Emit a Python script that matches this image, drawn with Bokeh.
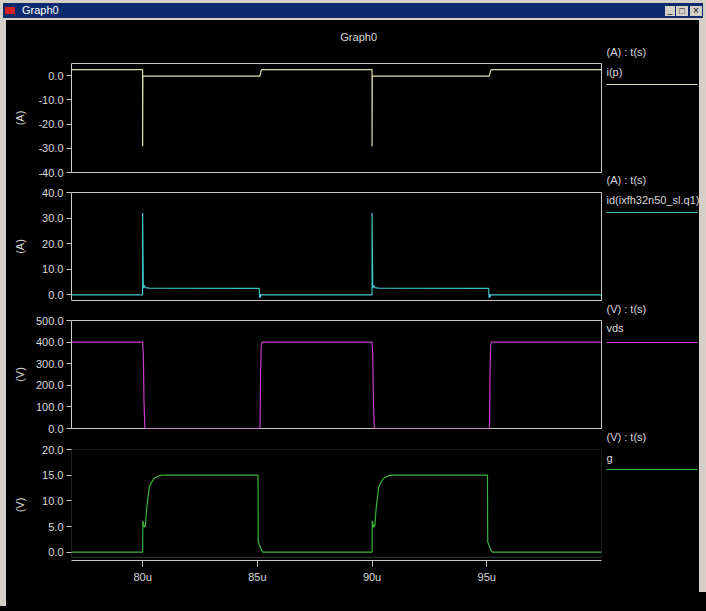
from bokeh.plotting import figure
from bokeh.models import Range1d, FixedTicker, PrintfTickFormatter, BoxAnnotation, Div
from bokeh.layouts import column, row
from bokeh.embed import file_html
from bokeh.resources import INLINE
from bokeh.core.properties import value

# ---------------- data (time in microseconds) ----------------
t_ip = [76.9, 80.0, 80.0, 80.01, 85.1, 85.13, 85.16, 85.2,
        90.0, 90.0, 90.01, 95.1, 95.13, 95.16, 95.2, 100.0]
i_p = [2.5, 2.5, -29.2, -0.2, -0.2, 0.3, 2.0, 2.5,
       2.5, -29.2, -0.2, -0.2, 0.3, 2.0, 2.5, 2.5]

t_id = [76.9, 80.0, 80.0, 80.03, 80.07, 80.1, 80.18, 80.3, 85.08, 85.1, 85.12, 85.14, 85.16, 85.2,
        90.0, 90.0, 90.03, 90.07, 90.1, 90.18, 90.3, 95.08, 95.1, 95.12, 95.14, 95.16, 95.2, 100.0]
i_d = [0.0, 0.0, 32.0, 2.7, 3.8, 2.9, 2.7, 2.6, 2.5, -1.2, 0.3, -0.9, 0.1, 0.0,
       0.0, 32.0, 2.7, 3.8, 2.9, 2.7, 2.6, 2.5, -1.2, 0.3, -0.9, 0.1, 0.0, 0.0]

t_vds = [76.9, 80.0, 80.03, 80.06, 80.1, 85.12, 85.14, 85.17, 85.2,
         90.0, 90.03, 90.06, 90.1, 95.12, 95.14, 95.17, 95.2, 100.0]
v_ds = [400, 400, 340, 120, 0, 0, 250, 385, 400,
        400, 340, 120, 0, 0, 250, 385, 400, 400]

t_g = [76.9, 80.0, 80.01, 80.04, 80.07, 80.12, 80.17, 80.2, 80.29, 80.35, 80.5, 80.72, 80.9,
       85.03, 85.04, 85.08, 85.1, 85.17, 85.24,
       90.0, 90.01, 90.04, 90.07, 90.12, 90.17, 90.2, 90.29, 90.35, 90.5, 90.72, 90.9,
       95.03, 95.04, 95.08, 95.1, 95.17, 95.24, 100.0]
g = [0.0, 0.0, 6.1, 5.6, 4.9, 5.1, 8.1, 9.4, 12.7, 13.3, 14.4, 14.9, 15.0,
     15.0, 2.0, 1.6, 1.3, 0.5, 0.0,
     0.0, 6.1, 5.6, 4.9, 5.1, 8.1, 9.4, 12.7, 13.3, 14.4, 14.9, 15.0,
     15.0, 2.0, 1.6, 1.3, 0.5, 0.0, 0.0]

x_ticks = [80, 85, 90, 95]
ticks_ip = [-40, -30, -20, -10, 0]
ticks_id = [0, 10, 20, 30, 40]
ticks_vds = [0, 100, 200, 300, 400, 500]
ticks_g = [0, 5, 10, 15, 20]

graph_title = "Graph0"
headers = ["(A) : t(s)", "(A) : t(s)", "(V) : t(s)", "(V) : t(s)"]
names = ["i(p)", "id(ixfh32n50_sl.q1)", "vds", "g"]
colors = ["#dcdca8", "#40c4c8", "#c83cc8", "#3cb43c"]

# ---------------- styling ----------------
FONT = "Liberation Sans"
FG = "#d8d8d8"
BOX = "#c8c8c8"
WIN = "#d4d0c8"
X0, X1 = 76.9, 100.0
BLACK_BG = {"background-color": "black"}


def blank(width, height):
    p = figure(width=width, height=height, output_backend="svg", toolbar_location=None,
               x_range=Range1d(0, width), y_range=Range1d(height, 0),
               min_border=0, background_fill_color="black", border_fill_color="black",
               styles=BLACK_BG, margin=0)
    p.axis.visible = False
    p.grid.visible = False
    p.outline_line_color = None
    return p


def panel(height, top, bottom, yr, ticks, unit, standoff, t, v, color, xaxis=False):
    p = figure(width=598, height=height, output_backend="svg", toolbar_location=None,
               x_range=Range1d(X0, X1), y_range=Range1d(*yr),
               min_border_left=65, min_border_right=3,
               min_border_top=top, min_border_bottom=bottom,
               background_fill_color="black", border_fill_color="black",
               styles=BLACK_BG, margin=0)
    p.grid.visible = False
    p.outline_line_color = BOX
    p.line(t, v, line_color=color, line_width=1.2)
    ya = p.yaxis[0]
    ya.ticker = FixedTicker(ticks=ticks)
    ya.formatter = PrintfTickFormatter(format="%.1f")
    ya.axis_line_color = None
    ya.major_tick_line_color = BOX
    ya.major_tick_out = 5
    ya.major_tick_in = 0
    ya.minor_tick_line_color = None
    ya.major_label_standoff = 3
    ya.major_label_text_font = FONT
    ya.major_label_text_font_size = "11px"
    ya.major_label_text_color = FG
    ya.axis_label = unit
    ya.axis_label_text_font = FONT
    ya.axis_label_text_font_size = "11px"
    ya.axis_label_text_font_style = "normal"
    ya.axis_label_text_color = FG
    ya.axis_label_standoff = standoff
    xa = p.xaxis[0]
    if xaxis:
        xa.ticker = FixedTicker(ticks=x_ticks)
        xa.formatter = PrintfTickFormatter(format="%.0fu")
        xa.axis_line_color = BOX
        xa.major_tick_line_color = BOX
        xa.major_tick_out = 6
        xa.major_tick_in = 0
        xa.minor_tick_line_color = None
        xa.major_label_standoff = 4
        xa.major_label_text_font = FONT
        xa.major_label_text_font_size = "11px"
        xa.major_label_text_color = FG
    else:
        xa.visible = False
    return p


# heading strip above the first panel (page y 20..50)
head = blank(598, 30)
head.text(x=[324], y=[16], text=[graph_title], text_font=value(FONT), text_font_size="11px",
          text_color=FG, text_align="center", text_baseline="middle")

f1 = panel(132, 13, 10, (-40.0, 5.0), ticks_ip, "(A)", 9, t_ip, i_p, colors[0])
f2 = panel(128, 10, 10, (-2.2, 40.0), ticks_id, "(A)", 13, t_id, i_d, colors[1])
f3 = panel(128, 10, 10, (0.0, 500.0), ticks_vds, "(V)", 7, t_vds, v_ds, colors[2])
f4 = panel(173, 11, 51, (-1.62, 20.0), ticks_g, "(V)", 13, t_g, g, colors[3], xaxis=True)
f4.outline_line_color = None
f4.add_layout(BoxAnnotation(bottom=-1.0, top=20.0, fill_color=None,
                            line_color=BOX, line_width=1))

# ---------------- legend column ----------------
LH = 591
leg = blank(95, LH)
hdr_y = [31, 159, 288, 416]
name_y = [51, 179, 307, 437]
line_y = [64, 192, 322, 449]
leg.text(x=[2] * 4, y=hdr_y, text=headers, text_font=value(FONT), text_font_size="11px",
         text_color=FG, text_baseline="middle")
leg.text(x=[2] * 4, y=name_y, text=names, text_font=value(FONT), text_font_size="11px",
         text_color=FG, text_baseline="middle")
leg.multi_line(xs=[[2, 93]] * 4, ys=[[yy, yy] for yy in line_y], line_color=colors, line_width=1.2)

# ---------------- window frame ----------------
bar = Div(width=706, height=20, margin=0, styles={"background-color": WIN}, text=(
    "<div style=\"position:relative;width:706px;height:20px;background:" + WIN + ";"
    "font-family:'Liberation Sans';overflow:hidden;\">"
    "<div style=\"position:absolute;left:3px;top:3px;width:700px;height:15px;background:#0c2a6c;\"></div>"
    "<span style=\"position:absolute;left:5px;top:7px;width:10px;height:7px;background:#d42020;\"></span>"
    "<span style=\"position:absolute;left:22px;top:4px;color:#ffffff;font-size:11px;line-height:13px;\">Graph0</span>"
    "<span style=\"position:absolute;left:665px;top:6px;width:10px;height:10px;background:" + WIN + ";"
    "font-size:9px;line-height:9px;text-align:center;color:#000;\">_</span>"
    "<span style=\"position:absolute;left:676px;top:6px;width:12px;height:10px;background:" + WIN + ";"
    "font-size:9px;line-height:10px;text-align:center;color:#000;\">&#9633;</span>"
    "<span style=\"position:absolute;left:690px;top:6px;width:12px;height:10px;background:" + WIN + ";"
    "font-size:10px;line-height:10px;text-align:center;color:#000;\">&#215;</span>"
    "</div>"))

left_strip = Div(width=6, height=586, margin=0, text="", styles={"background-color": WIN})
right_strip = Div(width=7, height=572, margin=0, text="", styles={"background-color": WIN})

panels = column(head, f1, f2, f3, f4, spacing=0, margin=0, styles=BLACK_BG)
body = row(left_strip, panels, leg, right_strip, spacing=0, margin=0, styles=BLACK_BG)
layout = column(bar, body, spacing=0, margin=0, styles=BLACK_BG)

open("out.html", "w").write(file_html(layout, INLINE))
